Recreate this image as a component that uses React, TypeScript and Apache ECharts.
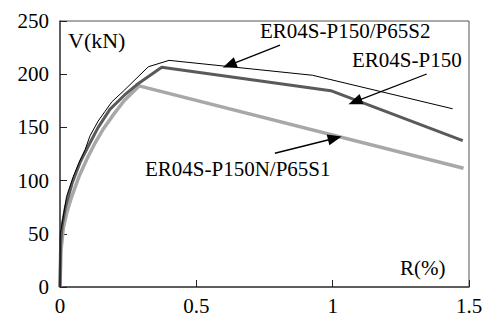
import React, { useEffect, useRef } from "react";
import * as echarts from "echarts";

const xTicks = [0, 0.5, 1, 1.5];
const yTicks = [0, 50, 100, 150, 200, 250];

// R(%), V(kN)
const seriesP65S2: [number, number][] = [
  [0, 0], [0.001, 50], [0.01, 63], [0.024, 85], [0.049, 104], [0.07, 117], [0.092, 129],
  [0.11, 142], [0.14, 156], [0.165, 165], [0.19, 174], [0.232, 184], [0.324, 207],
  [0.4, 213], [0.926, 199], [1.44, 167.5],
];
const seriesP150: [number, number][] = [
  [0, 0], [0.002, 40], [0.008, 58], [0.02, 75], [0.045, 98], [0.075, 118], [0.105, 133],
  [0.14, 150], [0.183, 167], [0.235, 180], [0.281, 190], [0.373, 206.5], [0.993, 184.5], [1.477, 137.5],
];
const seriesP150N: [number, number][] = [
  [0, 0], [0.004, 35], [0.012, 55], [0.025, 70], [0.043, 85], [0.07, 104], [0.1, 121],
  [0.13, 136], [0.16, 149], [0.196, 162], [0.235, 175], [0.29, 189], [1.48, 111.6],
];

// annotation arrows: [start, tip] in data coords
const arrowP65S2: [number, number][] = [[0.807, 227.4], [0.621, 208.6]];
const arrowP150: [number, number][] = [[1.345, 200.2], [1.082, 174.2]];
const arrowP150N: [number, number][] = [[0.788, 125.7], [1.008, 139.8]];

const labels = ["ER04S-P150/P65S2", "ER04S-P150", "ER04S-P150N/P65S1"];

const FONT = "'Liberation Serif', 'Times New Roman', serif";

export default function App() {
  const ref = useRef<HTMLDivElement>(null);
  useEffect(() => {
    if (!ref.current) return;
    const chart = echarts.init(ref.current, undefined, { renderer: "svg" });
    const arrowLine = (pts: [number, number][]) => ({
      silent: true,
      symbol: ["none", "triangle"],
      symbolSize: [11, 14],
      label: { show: false },
      lineStyle: { color: "#000", width: 1.3, type: "solid" },
      data: [[{ coord: pts[0] }, { coord: pts[1] }]],
    });
    chart.setOption({
      animation: false,
      backgroundColor: "#fff",
      grid: {
        left: 60, top: 21, right: 20, bottom: 40,
        show: true, borderColor: "#555", borderWidth: 1,
      },
      xAxis: {
        type: "value", min: 0, max: 1.5, interval: 0.5,
        axisLine: { show: true, onZero: false, lineStyle: { color: "#444", width: 1.5 } },
        axisTick: { show: true, inside: true, length: 7, lineStyle: { color: "#222" } },
        splitLine: { show: false },
        axisLabel: {
          fontFamily: FONT, fontSize: 21, color: "#000", margin: 8,
          formatter: (v: number) => (xTicks.includes(v) ? String(v) : ""),
        },
      },
      yAxis: {
        type: "value", min: 0, max: 250, interval: 50,
        axisLine: { show: true, onZero: false, lineStyle: { color: "#444", width: 1.5 } },
        axisTick: { show: true, inside: true, length: 7, lineStyle: { color: "#222" } },
        splitLine: { show: false },
        axisLabel: {
          fontFamily: FONT, fontSize: 21, color: "#000", margin: 11,
          formatter: (v: number) => (yTicks.includes(v) ? String(v) : ""),
        },
      },
      series: [
        {
          type: "line", data: seriesP150N, symbol: "none",
          lineStyle: { color: "#a8a8a8", width: 3.5 },
          markLine: arrowLine(arrowP150N),
        },
        {
          type: "line", data: seriesP150, symbol: "none",
          lineStyle: { color: "#5a5a5a", width: 3 },
          markLine: arrowLine(arrowP150),
        },
        {
          type: "line", data: seriesP65S2, symbol: "none",
          lineStyle: { color: "#000", width: 1 },
          markLine: arrowLine(arrowP65S2),
        },
      ],
      graphic: [
        { type: "text", left: 68, top: 29, style: { text: "V(kN)", font: `22px ${FONT}`, fill: "#000" } },
        { type: "text", left: 400, top: 257, style: { text: "R(%)", font: `21px ${FONT}`, fill: "#000" } },
        { type: "text", left: 260, top: 20, style: { text: labels[0], font: `21px ${FONT}`, fill: "#000" } },
        { type: "text", left: 352, top: 49, style: { text: labels[1], font: `21px ${FONT}`, fill: "#000" } },
        { type: "text", left: 145, top: 158, style: { text: labels[2], font: `21px ${FONT}`, fill: "#000" } },
      ],
    });
    return () => chart.dispose();
  }, []);
  return (
    <div
      ref={ref}
      style={{ position: "absolute", left: 0, top: 0, width: 489, height: 327 }}
    />
  );
}
